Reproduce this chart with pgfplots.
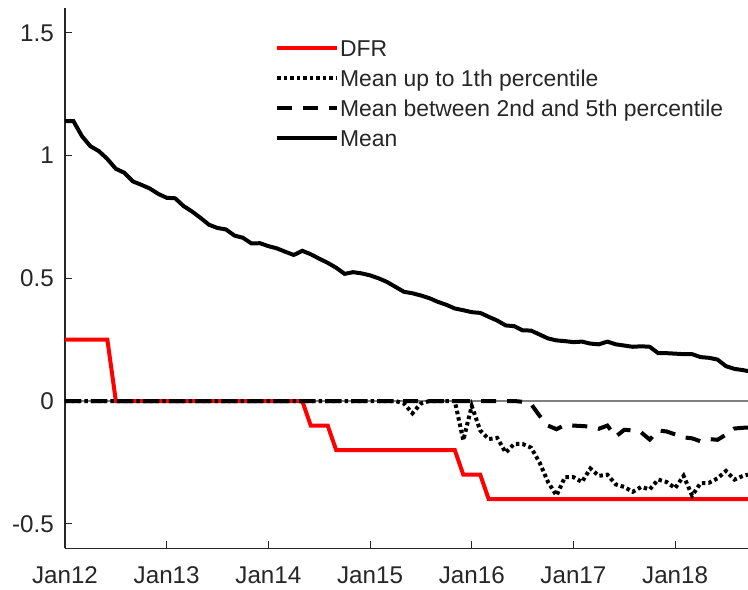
\documentclass[border=0pt]{standalone}
\usepackage{fontspec}
\setmainfont{Liberation Sans}
\usepackage{pgfplots}
\usepackage{pgfplotstable}
\pgfplotsset{compat=1.18}
\definecolor{axgray}{RGB}{38,38,38}
\definecolor{zerogray}{RGB}{128,128,128}

\pgfplotstableread{
m dfr p1 p25 mean
0 0.25 0 0 1.140
1 0.25 0 0 1.140
2 0.25 0 0 1.079
3 0.25 0 0 1.038
4 0.25 0 0 1.018
5 0.25 0 0 0.986
6 0 0 0 0.946
7 0 0 0 0.930
8 0 0 0 0.895
9 0 0 0 0.881
10 0 0 0 0.866
11 0 0 0 0.844
12 0 0 0 0.828
13 0 0 0 0.826
14 0 0 0 0.794
15 0 0 0 0.772
16 0 0 0 0.746
17 0 0 0 0.718
18 0 0 0 0.705
19 0 0 0 0.699
20 0 0 0 0.674
21 0 0 0 0.665
22 0 0 0 0.642
23 0 0 0 0.643
24 0 0 0 0.631
25 0 0 0 0.622
26 0 0 0 0.608
27 0 0 0 0.595
28 0 0 0 0.612
29 -0.1 0 0 0.598
30 -0.1 0 0 0.580
31 -0.1 0 0 0.563
32 -0.2 0 0 0.543
33 -0.2 0 0 0.518
34 -0.2 0 0 0.525
35 -0.2 0 0 0.520
36 -0.2 0 0 0.512
37 -0.2 0 0 0.500
38 -0.2 0 0 0.485
39 -0.2 0 0 0.465
40 -0.2 -0.01 0 0.445
41 -0.2 -0.05 0 0.439
42 -0.2 -0.01 0 0.430
43 -0.2 0 0 0.419
44 -0.2 0 0 0.404
45 -0.2 0 0 0.392
46 -0.2 0 0 0.377
47 -0.3 -0.16 0 0.370
48 -0.3 -0.02 0 0.362
49 -0.3 -0.12 0 0.359
50 -0.4 -0.155 0 0.343
51 -0.4 -0.15 0 0.328
52 -0.4 -0.21 0 0.308
53 -0.4 -0.175 0 0.305
54 -0.4 -0.175 -0.003 0.288
55 -0.4 -0.19 -0.012 0.287
56 -0.4 -0.25 -0.06 0.271
57 -0.4 -0.33 -0.10 0.255
58 -0.4 -0.385 -0.115 0.247
59 -0.4 -0.31 -0.097 0.244
60 -0.4 -0.31 -0.10 0.240
61 -0.4 -0.33 -0.102 0.242
62 -0.4 -0.275 -0.104 0.234
63 -0.4 -0.305 -0.113 0.231
64 -0.4 -0.30 -0.10 0.242
65 -0.4 -0.34 -0.145 0.231
66 -0.4 -0.35 -0.117 0.226
67 -0.4 -0.37 -0.12 0.221
68 -0.4 -0.35 -0.128 0.223
69 -0.4 -0.36 -0.157 0.221
70 -0.4 -0.32 -0.12 0.195
71 -0.4 -0.33 -0.124 0.195
72 -0.4 -0.355 -0.136 0.193
73 -0.4 -0.305 -0.148 0.191
74 -0.4 -0.385 -0.152 0.191
75 -0.4 -0.335 -0.164 0.179
76 -0.4 -0.333 -0.155 0.176
77 -0.4 -0.315 -0.158 0.169
78 -0.4 -0.285 -0.137 0.142
79 -0.4 -0.32 -0.112 0.131
80 -0.4 -0.305 -0.109 0.126
80.6 -0.4 -0.30 -0.108 0.122
}\datatable

\begin{document}
\begin{tikzpicture}
\begin{axis}[
  scale only axis, width=683bp, height=540bp,
  xmin=0, xmax=80.6, ymin=-0.6, ymax=1.6,
  axis x line*=bottom, axis y line*=left,
  axis line style={axgray, line width=1.1bp},
  every tick/.style={axgray, line width=1.1bp},
  tick align=inside, major tick length=7.5bp,
  xtick={0,12,24,36,48,60,72},
  xticklabels={Jan12,Jan13,Jan14,Jan15,Jan16,Jan17,Jan18},
  ytick={-0.5,0,0.5,1,1.5},
  yticklabels={-0.5,0,0.5,1,1.5},
  ticklabel style={font=\fontsize{24.2bp}{29bp}\selectfont, text=axgray, inner sep=0pt},
  xticklabel style={anchor=north, yshift=-18.4bp},
  yticklabel style={anchor=east, xshift=-11bp},
  legend cell align=left,
  legend image code/.code={\draw[#1] (0bp,0bp) -- (60bp,0bp);},
  legend style={
    at={(axis description cs:0,1)}, anchor=north west, xshift=210bp, yshift=-27bp,
    draw=none, fill=none, inner sep=0pt, outer sep=0pt,
    font=\fontsize{22.9bp}{27bp}\selectfont, text=axgray,
    row sep=4bp, column sep=1bp,
    nodes={inner sep=0pt, text height=21bp, text depth=5bp},
  },
]
\addplot[zerogray, line width=1.1bp, forget plot] coordinates {(0,0) (80.6,0)};
\addplot[red, line width=4bp] table[x=m, y=dfr] {\datatable};
\addlegendentry{DFR}
\addplot[black, line width=4bp, dash pattern=on 3.5bp off 3bp] table[x=m, y=p1] {\datatable};
\addlegendentry{Mean up to 1th percentile}
\addplot[black, line width=4bp, dash pattern=on 15bp off 11bp] table[x=m, y=p25] {\datatable};
\addlegendentry{Mean between 2nd and 5th percentile}
\addplot[black, line width=4bp] table[x=m, y=mean] {\datatable};
\addlegendentry{Mean}
\end{axis}
\pgfresetboundingbox
\path[use as bounding box] ([shift={(-65bp,-41.7bp)}]current axis.south west) rectangle ([shift={(0bp,8.3bp)}]current axis.north east);
\end{tikzpicture}
\end{document}
